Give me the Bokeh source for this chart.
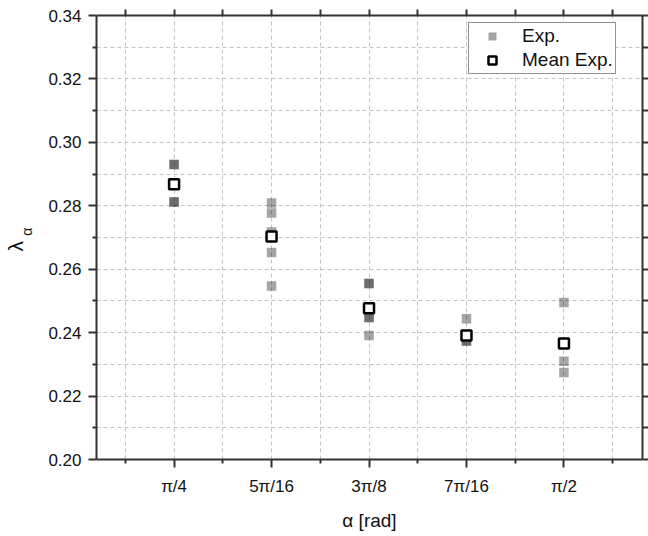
import numpy as np
from bokeh.plotting import figure
from bokeh.models import (FixedTicker, LinearAxis, Range1d, Legend, LegendItem,
                          PrintfTickFormatter)
from bokeh.embed import file_html
from bokeh.resources import INLINE

# ---- data ----
categories = ["π/4", "5π/16", "3π/8", "7π/16", "π/2"]
exp_pi_4 = [0.2930, 0.2930, 0.2812, 0.2812]
exp_5pi_16 = [0.2809, 0.2777, 0.2717, 0.2653, 0.2547]
exp_3pi_8 = [0.2555, 0.2555, 0.2448, 0.2448, 0.2391]
exp_7pi_16 = [0.2444, 0.2374, 0.2374]
exp_pi_2 = [0.2495, 0.2310, 0.2274]
mean_exp = [0.2868, 0.2703, 0.2477, 0.2391, 0.2366]
y_ticks = [0.20, 0.22, 0.24, 0.26, 0.28, 0.30, 0.32, 0.34]
y_minor = [0.21, 0.23, 0.25, 0.27, 0.29, 0.31, 0.33]

exp_groups = [exp_pi_4, exp_5pi_16, exp_3pi_8, exp_7pi_16, exp_pi_2]
pos = list(range(1, len(categories) + 1))
x_minor = [x - 0.5 for x in pos] + [pos[-1] + 0.5]
ex, ey = [], []
for i, g in enumerate(exp_groups):
    ex += [pos[i]] * len(g)
    ey += g

FONT = "Liberation Sans"
AX = "#333333"
TXT = "#111111"

p = figure(width=648, height=536, x_range=Range1d(0.204, 5.806),
           y_range=Range1d(0.20, 0.34), output_backend="svg",
           toolbar_location=None, min_border_left=94, min_border_top=15,
           min_border_right=5, min_border_bottom=77)
p.outline_line_color = None
p.background_fill_color = "white"
p.border_fill_color = "white"

xt = FixedTicker(ticks=pos, minor_ticks=x_minor)
yt = FixedTicker(ticks=y_ticks, minor_ticks=y_minor)
xaxis = p.xaxis[0]
yaxis = p.yaxis[0]


def style_axis(ax, major_out, minor_out):
    ax.axis_line_width = 2
    ax.axis_line_color = AX
    ax.major_tick_line_color = AX
    ax.minor_tick_line_color = AX
    ax.major_tick_line_width = 2
    ax.minor_tick_line_width = 2
    ax.major_tick_out = major_out
    ax.major_tick_in = 0
    ax.minor_tick_out = minor_out
    ax.minor_tick_in = 0


for ax in (xaxis, yaxis):
    style_axis(ax, 8, 4)
    ax.major_label_text_font = FONT
    ax.major_label_text_font_size = "17px"
    ax.major_label_text_color = TXT
    ax.axis_label_text_font = FONT
    ax.axis_label_text_font_style = "normal"
    ax.axis_label_text_color = TXT

xaxis.ticker = xt
xaxis.major_label_overrides = {pos[i]: categories[i] for i in range(len(pos))}
xaxis.major_label_standoff = 9
xaxis.axis_label = "α [rad]"
xaxis.axis_label_text_font_size = "19px"
xaxis.axis_label_standoff = 11

yaxis.ticker = yt
yaxis.formatter = PrintfTickFormatter(format="%.2f")
yaxis.major_label_standoff = 7
# subscript alpha of the y label
yaxis.axis_label = "\u00a0\u00a0\u00a0α"
yaxis.axis_label_text_font_size = "14px"
yaxis.axis_label_standoff = 10

# outer axis carrying the lambda of the y label
lam_axis = LinearAxis(ticker=FixedTicker(ticks=[], minor_ticks=[]),
                      axis_line_color=None, major_tick_out=0, major_tick_in=0,
                      minor_tick_out=0, minor_tick_in=0,
                      axis_label="λ\u00a0\u00a0\u00a0", axis_label_text_font=FONT,
                      axis_label_text_font_size="21px", axis_label_text_color=TXT,
                      axis_label_text_font_style="normal",
                      axis_label_standoff=-10)
p.add_layout(lam_axis, "left")

# mirror axes (top/right): ticks only, no labels
top = LinearAxis(ticker=FixedTicker(ticks=[], minor_ticks=sorted(pos + x_minor)))
right = LinearAxis(ticker=FixedTicker(ticks=[], minor_ticks=sorted(y_ticks + y_minor)))
for ax in (top, right):
    style_axis(ax, 0, 6)
p.add_layout(top, "above")
p.add_layout(right, "right")

# grids (major and minor, dashed)
for g, t in ((p.xgrid[0], xt), (p.ygrid[0], yt)):
    g.ticker = t
    g.grid_line_color = "#c4c4c4"
    g.grid_line_dash = "4 3"
    g.grid_line_width = 1
    g.minor_grid_line_color = "#c4c4c4"
    g.minor_grid_line_dash = "4 3"
    g.minor_grid_line_width = 1

r1 = p.scatter(ex, ey, marker="square", size=9.5, fill_color="#181818",
               fill_alpha=0.39, line_color=None)
r2 = p.scatter(pos, mean_exp, marker="square", size=10, fill_color="white",
               line_color="black", line_width=2.5)

legend = Legend(items=[LegendItem(label="Exp.", renderers=[r1]),
                       LegendItem(label="Mean Exp.", renderers=[r2])],
                location=(372, 385), padding=2, spacing=2,
                glyph_width=42, glyph_height=20, label_height=20,
                label_standoff=9, margin=0,
                border_line_color="#222222", border_line_width=1,
                background_fill_color="white", background_fill_alpha=1,
                label_text_font=FONT, label_text_font_size="19px",
                label_text_color=TXT)
p.add_layout(legend)

open("out.html", "w").write(file_html(p, INLINE))
